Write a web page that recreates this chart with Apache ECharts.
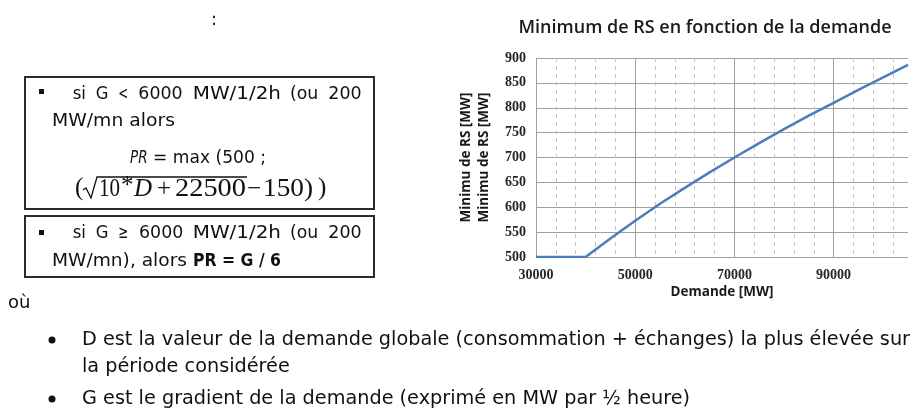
<!DOCTYPE html>
<html>
<head>
<meta charset="utf-8">
<script src="https://cdn.jsdelivr.net/npm/echarts@6/dist/echarts.min.js"></script>
<style>
  html, body { margin: 0; padding: 0; background: #fff; }
  #main { width: 914px; height: 410px; }
</style>
</head>
<body>
<div id="main"></div>
<script>
  // values
  var demand = [30000, 35000, 40000, 45000, 50000, 55000, 60000, 65000, 70000, 75000, 80000, 85000, 90000, 95000, 100000, 105000];
  var minRS = [500, 500, 500, 537, 573, 607, 639, 670, 700, 729, 757, 784, 810, 836, 861, 886];
  var xTicks = [30000, 50000, 70000, 90000];
  var yTicks = [500, 550, 600, 650, 700, 750, 800, 850, 900];

  var bodyFont = '"DejaVu Sans", Tahoma, sans-serif';
  var serifFont = '"Liberation Serif", "Times New Roman", serif';
  var ink = '#111';

  var measure = document.createElement('canvas').getContext('2d');
  function textWidth(str, font) {
    measure.font = font;
    return measure.measureText(str).width;
  }

  function txt(str, x, y, font, extra) {
    var el = {
      type: 'text', x: x, y: y, silent: true,
      style: { text: str, font: font, fill: ink, align: 'left', verticalAlign: 'middle' }
    };
    if (extra) {
      for (var k in extra) el[k] = extra[k];
    }
    return el;
  }

  // text squeezed or stretched to a target width
  function fitTxt(str, x, y, font, width) {
    var s = width / textWidth(str, font);
    return txt(str, x, y, font, { scaleX: s, originX: 0 });
  }

  // justified line: [word, left, width]
  function words(list, y, font) {
    return list.map(function (w) { return fitTxt(w[0], w[1], y, font, w[2]); });
  }

  var f18 = '18px ' + bodyFont;
  var graphics = [];

  graphics.push(txt(':', 211, 20, f18));

  // boxes
  graphics.push({ type: 'rect', shape: { x: 25, y: 77, width: 349, height: 132 },
    style: { fill: 'none', stroke: '#2b2b2b', lineWidth: 2 } });
  graphics.push({ type: 'rect', shape: { x: 25, y: 216, width: 349, height: 61 },
    style: { fill: 'none', stroke: '#2b2b2b', lineWidth: 2 } });

  // box 1
  graphics.push({ type: 'rect', shape: { x: 39, y: 89, width: 5, height: 5 }, style: { fill: ink } });
  graphics = graphics.concat(words([['si', 72.7, 13.3], ['G', 95.7, 12.7], ['<', 118.3, 10], ['6000', 138.3, 44.3],
    ['MW/1/2h', 192.7, 88.3], ['(ou', 290, 28.3], ['200', 328.3, 33.3]], 94, f18));
  graphics.push(fitTxt('MW/mn alors', 52, 121, f18, 123));
  graphics.push(fitTxt('PR', 130, 158, 'italic 18px ' + bodyFont, 17.5));
  graphics.push(fitTxt('= max (500 ;', 153, 158, f18, 113));

  // formula  (sqrt(10*D + 22500) - 150)
  var f25 = '25px ' + serifFont;
  graphics.push(txt('(', 75, 188, f25));
  graphics.push({ type: 'polyline', shape: { points: [[83, 190], [86, 188], [91, 198], [97, 177], [247, 177]] },
    style: { stroke: ink, lineWidth: 1.3, fill: 'none' } });
  graphics.push(fitTxt('10', 99, 189, f25, 21));
  graphics.push(txt('*', 121, 186, f25));
  graphics.push(txt('D', 134, 189, 'italic 25px ' + serifFont));
  graphics.push(txt('+', 157, 189, f25));
  graphics.push(fitTxt('22500', 175, 189, f25, 71));
  graphics.push(txt('\u2212', 247, 189, f25));
  graphics.push(fitTxt('150)', 263, 189, f25, 50));
  graphics.push(txt(')', 318, 188, f25));

  // box 2
  graphics.push({ type: 'rect', shape: { x: 39, y: 230, width: 5, height: 5 }, style: { fill: ink } });
  graphics = graphics.concat(words([['si', 72.7, 13.3], ['G', 95.7, 12.7], ['\u2265', 118.3, 10], ['6000', 139, 44.3],
    ['MW/1/2h', 192.7, 88.3], ['(ou', 290, 28.3], ['200', 328.3, 33.3]], 233, f18));
  graphics.push(fitTxt('MW/mn), alors', 52, 261, f18, 135));
  graphics.push(fitTxt('PR = G / 6', 193, 261, 'bold 18px ' + bodyFont, 88));

  graphics.push(txt('o\u00f9', 8, 303, f18));

  // bullet list
  var f19 = '19px ' + bodyFont;
  var line1 = 'D est la valeur de la demande globale (consommation + \u00e9changes) la plus \u00e9lev\u00e9e sur';
  var sq = 828 / textWidth(line1, f19);
  graphics.push({ type: 'circle', shape: { cx: 52, cy: 340, r: 3.5 }, style: { fill: ink } });
  graphics.push(txt(line1, 82, 340, f19, { scaleX: sq, originX: 0 }));
  graphics.push(txt('la p\u00e9riode consid\u00e9r\u00e9e', 82, 367, f19, { scaleX: sq, originX: 0 }));
  graphics.push({ type: 'circle', shape: { cx: 52, cy: 399, r: 3.5 }, style: { fill: ink } });
  graphics.push(txt('G est le gradient de la demande (exprim\u00e9 en MW par \u00bd heure)', 82, 399, f19, { scaleX: sq, originX: 0 }));

  var chart = echarts.init(document.getElementById('main'));
  var tickFont = { fontFamily: serifFont, fontWeight: 'bold', fontSize: 14, color: '#262626' };
  var nameFont = '"Open Sans", sans-serif';

  var option = {
    animation: false,
    backgroundColor: '#fff',
    title: {
      text: 'Minimum de RS en fonction de la demande',
      left: 700, top: 14, textAlign: 'center',
      textStyle: { fontFamily: nameFont, fontWeight: 600, fontSize: 18, color: '#1a1a1a' }
    },
    grid: { left: 536, top: 58, width: 372, height: 199 },
    xAxis: [{
      // minor dashed grid
      type: 'value', position: 'bottom', min: 30000, max: 105000, interval: 4000,
      axisLine: { show: false }, axisTick: { show: false }, axisLabel: { show: false },
      splitLine: { show: true, showMinLine: false, showMaxLine: false,
        lineStyle: { color: '#c4c4c4', type: [4, 4], width: 1 } }
    }, {
      type: 'value', position: 'bottom', min: 30000, max: 105000, interval: 20000,
      name: 'Demande [MW]', nameLocation: 'middle', nameGap: 28,
      nameTextStyle: { fontFamily: nameFont, fontWeight: 'bold', fontSize: 13.5, color: '#1a1a1a' },
      axisLine: { show: false }, axisTick: { show: false },
      axisLabel: {
        margin: 11, showMaxLabel: false,
        formatter: function (v) { return xTicks.indexOf(v) >= 0 ? String(v) : ''; }
      },
      splitLine: { show: true, showMaxLine: false, lineStyle: { color: '#a0a0a0', width: 1 } }
    }],
    yAxis: {
      type: 'value', min: 500, max: 900, interval: 50,
      name: 'Minimu de RS [MW]\nMinimu de RS [MW]', nameLocation: 'middle', nameRotate: 90, nameGap: 43,
      nameTextStyle: { fontFamily: nameFont, fontWeight: 'bold', fontSize: 13.5, color: '#1a1a1a', lineHeight: 18 },
      axisLine: { show: false }, axisTick: { show: false },
      axisLabel: {
        margin: 10,
        formatter: function (v) { return yTicks.indexOf(v) >= 0 ? String(v) : ''; }
      },
      splitLine: { show: true, lineStyle: { color: '#a0a0a0', width: 1 } }
    },
    series: [{
      type: 'line',
      xAxisIndex: 1,
      data: demand.map(function (d, i) { return [d, minRS[i]]; }),
      showSymbol: false,
      lineStyle: { color: '#4a7ebb', width: 2.5 },
      itemStyle: { color: '#4a7ebb' }
    }],
    graphic: graphics
  };
  Object.assign(option.xAxis[1].axisLabel, tickFont);
  Object.assign(option.yAxis.axisLabel, tickFont);

  chart.setOption(option);
</script>
</body>
</html>
